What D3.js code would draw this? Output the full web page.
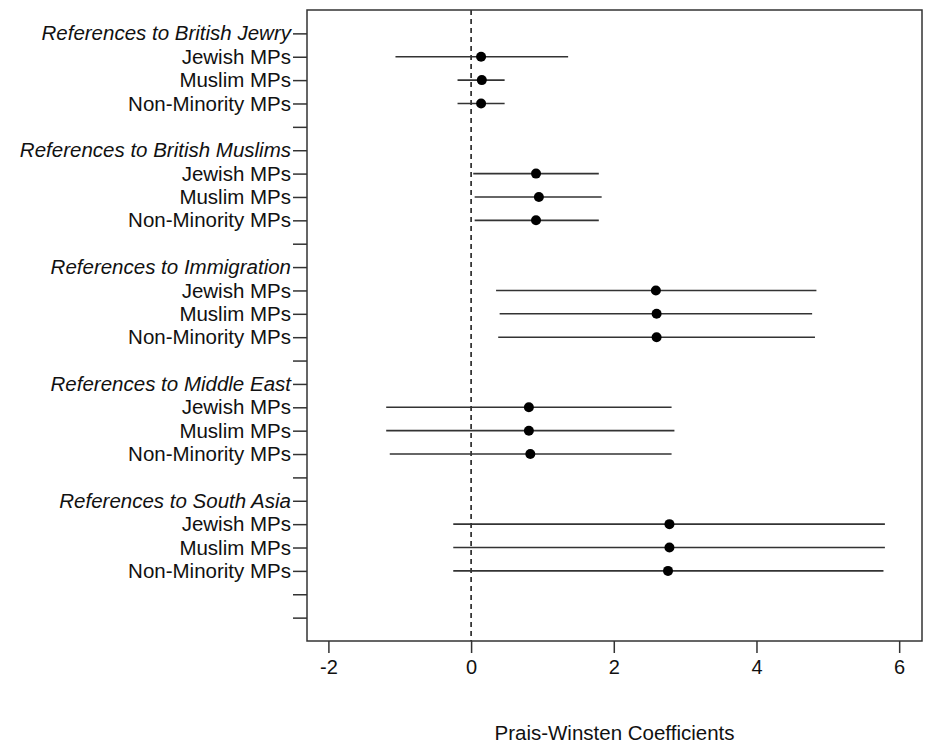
<!DOCTYPE html>
<html>
<head>
<meta charset="utf-8">
<script src="https://cdn.jsdelivr.net/npm/d3@7"></script>
<style>
  body { margin: 0; background: #fff; }
  text { font-family: 'Liberation Sans', Arial, sans-serif; fill: #111; }
  .hdr { font-style: italic; }
</style>
</head>
<body>
<svg width="927" height="745"></svg>
<script>
const svg = d3.select('svg');

// groups (headers) and MP types
const groups = ['References to British Jewry', 'References to British Muslims',
  'References to Immigration', 'References to Middle East', 'References to South Asia'];
const mpTypes = ['Jewish MPs', 'Muslim MPs', 'Non-Minority MPs'];

// coefficient estimates, one row per group, one value per MP type
const estimates = [
  [0.14, 0.15, 0.14],
  [0.91, 0.95, 0.91],
  [2.59, 2.60, 2.60],
  [0.81, 0.81, 0.83],
  [2.78, 2.78, 2.76]
];
const lower = [
  [-1.06, -0.19, -0.19],
  [0.03, 0.05, 0.05],
  [0.35, 0.40, 0.38],
  [-1.19, -1.19, -1.14],
  [-0.25, -0.25, -0.25]
];
const upper = [
  [1.36, 0.47, 0.47],
  [1.79, 1.83, 1.79],
  [4.84, 4.78, 4.82],
  [2.81, 2.85, 2.81],
  [5.80, 5.80, 5.78]
];
const xTicks = [-2, 0, 2, 4, 6];

// build rows: header, 3 MP rows, blank; plus one extra blank at the end
const rows = [];
groups.forEach((g, gi) => {
  rows.push({ label: g, header: true });
  mpTypes.forEach((m, mi) => rows.push({
    label: m, est: estimates[gi][mi], lo: lower[gi][mi], hi: upper[gi][mi]
  }));
  rows.push({ label: '' });
});
rows.push({ label: '' });
rows.forEach((r, i) => r.pos = i + 1);

const margin = { top: 10, left: 307 };
const plotW = 922 - margin.left;
const plotH = 641 - margin.top;

const xScale = d3.scaleLinear().domain([-2.3, 6.32]).range([0, plotW]);
const yScale = d3.scaleLinear().domain([0, rows.length + 1]).range([0, plotH]);

const root = svg.append('g')
  .attr('transform', `translate(${margin.left}, ${margin.top})`);

// zero line
root.append('line')
  .attr('x1', xScale(0)).attr('x2', xScale(0))
  .attr('y1', 0).attr('y2', plotH)
  .attr('stroke', '#111').attr('stroke-width', 1.5)
  .attr('stroke-dasharray', '5,4');

// box
root.append('rect')
  .attr('width', plotW).attr('height', plotH)
  .attr('fill', 'none').attr('stroke', '#333').attr('stroke-width', 1.5);

// x axis
const xAxis = d3.axisBottom(xScale).tickValues(xTicks).tickSize(12).tickPadding(7)
  .tickFormat(d => String(d));
const gx = root.append('g')
  .attr('transform', `translate(0, ${plotH})`)
  .call(xAxis);
gx.select('.domain').remove();
gx.selectAll('line').attr('stroke', '#333').attr('stroke-width', 1.5);
gx.selectAll('text').style('font-size', '20px').attr('fill', '#111');

// y axis
const yAxis = d3.axisLeft(yScale).tickValues(rows.map(r => r.pos))
  .tickSize(14).tickPadding(2)
  .tickFormat(p => rows[p - 1].label);
const gy = root.append('g').call(yAxis);
gy.select('.domain').remove();
gy.selectAll('line').attr('stroke', '#333').attr('stroke-width', 1.5);
gy.selectAll('text')
  .style('font-size', '20.5px')
  .attr('fill', '#111')
  .classed('hdr', p => !!rows[p - 1].header);

// intervals and points
const data = rows.filter(r => r.est !== undefined);
root.selectAll('.ci').data(data).join('line')
  .attr('class', 'ci')
  .attr('x1', d => xScale(d.lo)).attr('x2', d => xScale(d.hi))
  .attr('y1', d => yScale(d.pos)).attr('y2', d => yScale(d.pos))
  .attr('stroke', '#333').attr('stroke-width', 1.6);
root.selectAll('.pt').data(data).join('circle')
  .attr('class', 'pt')
  .attr('cx', d => xScale(d.est)).attr('cy', d => yScale(d.pos))
  .attr('r', 5).attr('fill', '#000');

// axis title
svg.append('text')
  .attr('x', margin.left + plotW / 2).attr('y', 740)
  .attr('text-anchor', 'middle')
  .style('font-size', '20.5px')
  .text('Prais-Winsten Coefficients');
</script>
</body>
</html>
